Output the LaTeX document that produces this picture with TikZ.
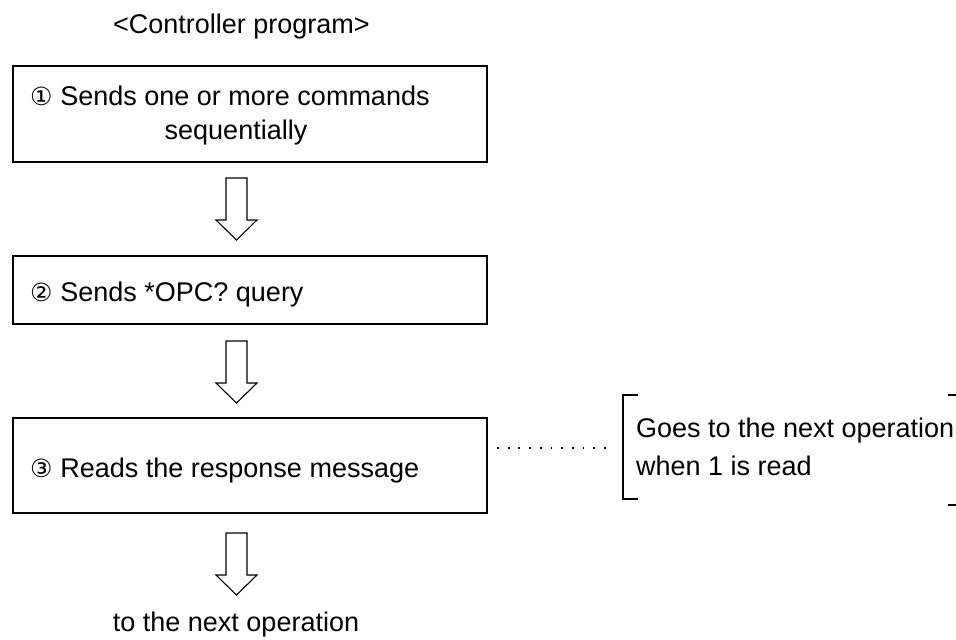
\documentclass[tikz,border=0pt]{standalone}
\usepackage{fontspec}
\setmainfont{Liberation Sans}
\newfontfamily\circfont{DejaVu Sans}
\usetikzlibrary{calc}
\newcommand\blockarrow[2]{%
  \draw[blockarr] ($(#1)+(-10.5,0)$) -- ($(#1)+(10.5,0)$) -- ($(#2)+(10.5,-20)$)
    -- ($(#2)+(20.5,-20)$) -- (#2) -- ($(#2)+(-20.5,-20)$) -- ($(#2)+(-10.5,-20)$) -- cycle;}
\newcommand\circd[1]{{\circfont\fontsize{25}{25}\selectfont #1}}
\begin{document}
\begin{tikzpicture}[x=1pt,y=-1pt,
  every node/.style={font=\fontsize{27}{34}\selectfont, inner sep=0pt, outer sep=0pt},
  box/.style={draw, line width=1.4pt, anchor=north west, minimum width=474pt},
  blockarr/.style={draw, line width=1.1pt, line join=miter},
  lbl/.style={anchor=base west},
  dotline/.style={line width=1.8pt, dash pattern=on 1.8pt off 8.9pt},
  brk/.style={line width=1.1pt}]
\useasboundingbox (0,0) rectangle (956,640);

% title
\node[lbl] (title) at (113,33) {<Controller program>};

% boxes
\node[box, minimum height=96pt] (b1) at (13,66) {};
\node[box, minimum height=68pt] (b2) at (13,256) {};
\node[box, minimum height=95pt] (b3) at (13,418) {};

% box texts
\node[lbl] (t1a) at (30,105) {\circd{①}\hspace{8pt}Sends one or more commands};
\node[anchor=base] (t1b) at (236,139) {sequentially};
\node[lbl] (t2) at (30,301) {\circd{②}\hspace{8pt}Sends *OPC? query};
\node[lbl] (t3) at (30,477) {\circd{③}\hspace{8pt}Reads the response message};

% final text
\node[anchor=base] (tn) at (236,631) {to the next operation};

% block arrows
\coordinate (a1s) at ($(b1.south west)+(223.5,16)$);
\coordinate (a1e) at ($(b2.north west)+(223.5,-16)$);
\coordinate (a2s) at ($(b2.south west)+(223.5,17)$);
\coordinate (a2e) at ($(b3.north west)+(223.5,-15)$);
\coordinate (a3s) at ($(b3.south west)+(223.5,20)$);
\coordinate (a3e) at ($(b3.south west)+(223.5,82)$);
\blockarrow{a1s}{a1e}
\blockarrow{a2s}{a2e}
\blockarrow{a3s}{a3e}

% note with bracket
\node[lbl] (g1) at (636,437) {Goes to the next operation};
\node[lbl] (g2) at (636,475) {when 1 is read};
\coordinate (brt) at (623,395);
\coordinate (brb) at (623,499);
\coordinate (brm) at (623,448);
\draw[brk] ($(brt)+(15,0)$) -- (brt) -- (brb) -- ($(brb)+(15,0)$);
\draw[brk] (948,395) -- (956,395);
\draw[brk] (948,505) -- (956,505);

% dotted connector
\draw[dotline] ($(b3.east)+(10,-17.5)$) -- ($(brm)+(-17,0)$);
\end{tikzpicture}
\end{document}
